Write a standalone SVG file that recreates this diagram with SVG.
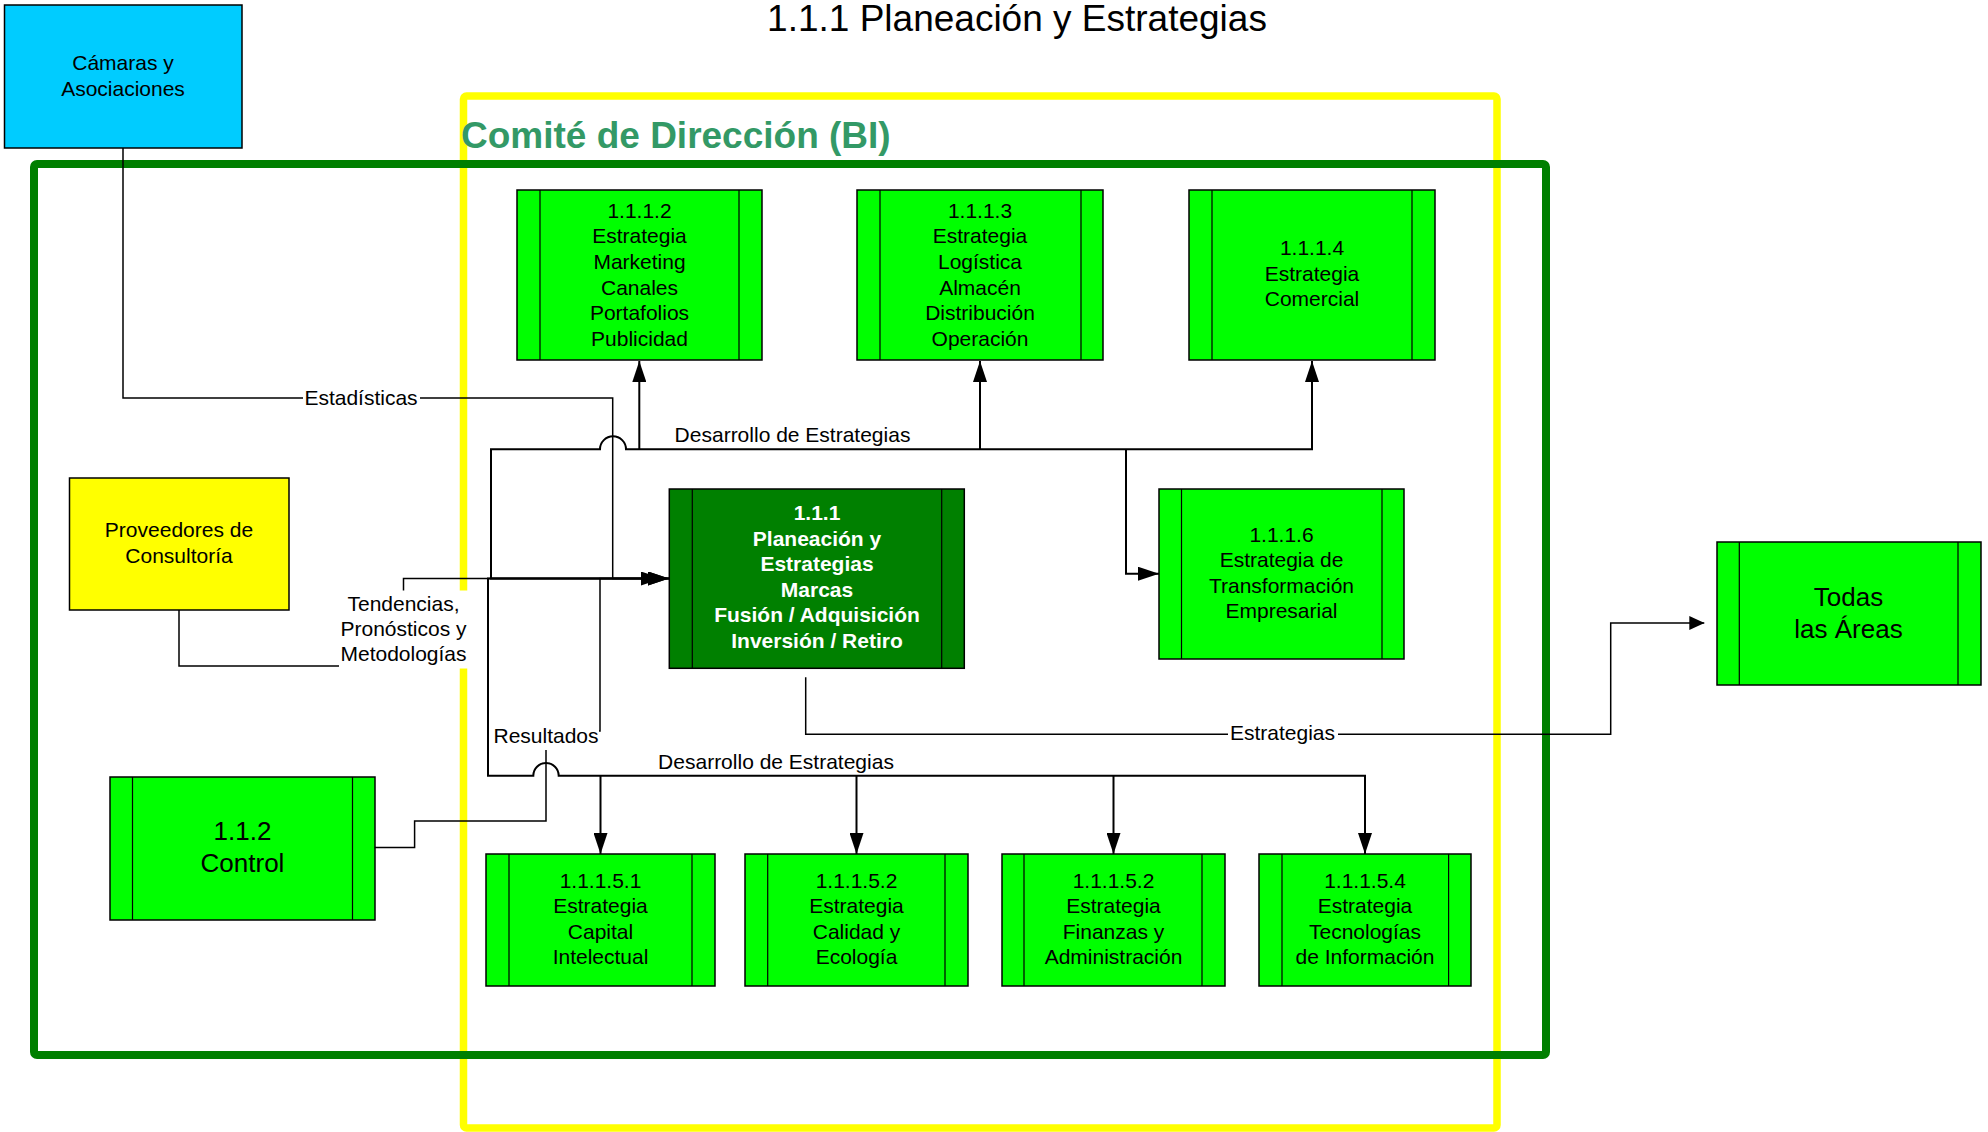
<svg xmlns="http://www.w3.org/2000/svg" width="1988" height="1132" viewBox="0 0 1988 1132">
<style>
text{font-family:"Liberation Sans",Arial,sans-serif;fill:#000}
.t21{font-size:21px;text-anchor:middle}
.t26{font-size:26px;text-anchor:middle}
.w{fill:#fff;font-weight:bold}
.box{fill:#00ff00;stroke:#000;stroke-width:1.5}
.dbox{fill:#008000;stroke:#000;stroke-width:1.5}
.in{stroke:#000;stroke-width:1.2;fill:none}
.c{fill:none;stroke:#000;stroke-width:1.5}
.d{fill:none;stroke:#000;stroke-width:2}
.bg{fill:#fff}
</style>
<defs>
<marker id="arr" viewBox="0 0 21 14" refX="21" refY="7" markerWidth="21" markerHeight="14" markerUnits="userSpaceOnUse" orient="auto"><path d="M0,0L21,7L0,14z" fill="#000"/></marker>
<marker id="arrS" viewBox="0 0 15 14" refX="15" refY="7" markerWidth="15" markerHeight="14" markerUnits="userSpaceOnUse" orient="auto"><path d="M0,0L15,7L0,14z" fill="#000"/></marker>
</defs>
<rect width="1988" height="1132" fill="#fff"/>
<text x="1017" y="31" style="font-size:37px;text-anchor:middle">1.1.1 Planeación y Estrategias</text>
<g id="frame-comite">
<rect x="463.5" y="96" width="1033.5" height="1032" rx="3" fill="none" stroke="#ffff00" stroke-width="7.5"/>
<text x="461" y="148" style="font-size:37px;font-weight:bold;fill:#339966">Comité de Dirección (BI)</text>
</g>
<g id="frame-bi">
<rect x="34" y="164" width="1512" height="891" rx="3" fill="none" stroke="#007f00" stroke-width="8"/>
</g>

<g id="camaras">
<rect x="4.5" y="5" width="237.5" height="143" fill="#00ccff" stroke="#000" stroke-width="1.5"/>
<text class="t21"><tspan x="123" y="70.4">Cámaras y</tspan><tspan x="123" y="96">Asociaciones</tspan></text>
</g>
<g id="proveedores">
<rect x="69.5" y="478" width="219.5" height="132" fill="#ffff00" stroke="#000" stroke-width="1.5"/>
<text class="t21"><tspan x="179" y="537">Proveedores de</tspan><tspan x="179" y="562.6">Consultoría</tspan></text>
</g>
<g id="n1112">
<rect class="box" x="517" y="190" width="245" height="170"/>
<path class="in" d="M540,190V360M739,190V360"/>
<text class="t21"><tspan x="639.5" y="217.7">1.1.1.2</tspan><tspan x="639.5" y="243.3">Estrategia</tspan><tspan x="639.5" y="268.9">Marketing</tspan><tspan x="639.5" y="294.5">Canales</tspan><tspan x="639.5" y="320.1">Portafolios</tspan><tspan x="639.5" y="345.7">Publicidad</tspan></text>
</g>
<g id="n1113">
<rect class="box" x="857" y="190" width="246" height="170"/>
<path class="in" d="M880,190V360M1081,190V360"/>
<text class="t21"><tspan x="980" y="217.7">1.1.1.3</tspan><tspan x="980" y="243.3">Estrategia</tspan><tspan x="980" y="268.9">Logística</tspan><tspan x="980" y="294.5">Almacén</tspan><tspan x="980" y="320.1">Distribución</tspan><tspan x="980" y="345.7">Operación</tspan></text>
</g>
<g id="n1114">
<rect class="box" x="1189" y="190" width="246" height="170"/>
<path class="in" d="M1212,190V360M1412,190V360"/>
<text class="t21"><tspan x="1312" y="255">1.1.1.4</tspan><tspan x="1312" y="280.6">Estrategia</tspan><tspan x="1312" y="306.2">Comercial</tspan></text>
</g>
<g id="n111">
<rect class="dbox" x="669.3" y="489" width="295" height="179.3"/>
<path class="in" d="M692.3,489V668.3M941.7,489V668.3"/>
<text class="t21 w"><tspan class="w" x="817" y="520">1.1.1</tspan><tspan class="w" x="817" y="545.6">Planeación y</tspan><tspan class="w" x="817" y="571.2">Estrategias</tspan><tspan class="w" x="817" y="596.8">Marcas</tspan><tspan class="w" x="817" y="622.4">Fusión / Adquisición</tspan><tspan class="w" x="817" y="648">Inversión / Retiro</tspan></text>
</g>
<g id="n1116">
<rect class="box" x="1159" y="489" width="245" height="170"/>
<path class="in" d="M1181.5,489V659M1382,489V659"/>
<text class="t21"><tspan x="1281.5" y="541.5">1.1.1.6</tspan><tspan x="1281.5" y="567.1">Estrategia de</tspan><tspan x="1281.5" y="592.7">Transformación</tspan><tspan x="1281.5" y="618.3">Empresarial</tspan></text>
</g>
<g id="todas">
<rect class="box" x="1717" y="542" width="264" height="143"/>
<path class="in" d="M1739.3,542V685M1958,542V685"/>
<text class="t26"><tspan x="1848.5" y="606">Todas</tspan><tspan x="1848.5" y="638">las Áreas</tspan></text>
</g>
<g id="n112">
<rect class="box" x="110" y="777" width="265" height="143"/>
<path class="in" d="M132.5,777V920M352.5,777V920"/>
<text class="t26"><tspan x="242.5" y="839.6">1.1.2</tspan><tspan x="242.5" y="871.8">Control</tspan></text>
</g>
<g id="n11151">
<rect class="box" x="486" y="854" width="229" height="132"/>
<path class="in" d="M509,854V986M692,854V986"/>
<text class="t21"><tspan x="600.5" y="887.5">1.1.1.5.1</tspan><tspan x="600.5" y="913.1">Estrategia</tspan><tspan x="600.5" y="938.7">Capital</tspan><tspan x="600.5" y="964.3">Intelectual</tspan></text>
</g>
<g id="n11152a">
<rect class="box" x="745" y="854" width="223" height="132"/>
<path class="in" d="M767.7,854V986M945,854V986"/>
<text class="t21"><tspan x="856.5" y="887.5">1.1.1.5.2</tspan><tspan x="856.5" y="913.1">Estrategia</tspan><tspan x="856.5" y="938.7">Calidad y</tspan><tspan x="856.5" y="964.3">Ecología</tspan></text>
</g>
<g id="n11152b">
<rect class="box" x="1002" y="854" width="223" height="132"/>
<path class="in" d="M1024,854V986M1202,854V986"/>
<text class="t21"><tspan x="1113.5" y="887.5">1.1.1.5.2</tspan><tspan x="1113.5" y="913.1">Estrategia</tspan><tspan x="1113.5" y="938.7">Finanzas y</tspan><tspan x="1113.5" y="964.3">Administración</tspan></text>
</g>
<g id="n11154">
<rect class="box" x="1259" y="854" width="212" height="132"/>
<path class="in" d="M1282,854V986M1448.6,854V986"/>
<text class="t21"><tspan x="1365" y="887.5">1.1.1.5.4</tspan><tspan x="1365" y="913.1">Estrategia</tspan><tspan x="1365" y="938.7">Tecnologías</tspan><tspan x="1365" y="964.3">de Información</tspan></text>
</g>

<g id="connectors">
<path class="c" d="M123,148V398H612.7V578.5H669" marker-end="url(#arr)"/>
<path class="c" d="M179,610V666H403.5V578.5H669" marker-end="url(#arr)"/>
<path class="c" d="M374.7,847.6H414.6V821H546V731H600V578.5H662" marker-end="url(#arr)"/>
<path class="d" d="M669,578.5H491V449.3H600A13,13 0 0 1 626,449.3H1312V361" marker-end="url(#arr)"/>
<path class="d" d="M639.3,449.3V361" marker-end="url(#arr)"/>
<path class="d" d="M980,449.3V361" marker-end="url(#arr)"/>
<path class="d" d="M1126,449.3V573.7H1159" marker-end="url(#arr)"/>
<path class="d" d="M669,578.5H488V775.7H533.3A12.7,12.7 0 0 1 558.7,775.7H1365V854" marker-end="url(#arr)"/>
<path class="d" d="M600.5,775.7V854" marker-end="url(#arr)"/>
<path class="d" d="M856.5,775.7V854" marker-end="url(#arr)"/>
<path class="d" d="M1113.5,775.7V854" marker-end="url(#arr)"/>
<path class="c" d="M805.7,677.3V734.3H1610.7V623H1704.3" marker-end="url(#arrS)"/>
<rect class="bg" x="303" y="386" width="117" height="24"/>
<text class="t21" x="361" y="405">Estadísticas</text>
<rect class="bg" x="339" y="590.5" width="130" height="78"/>
<text class="t21"><tspan x="403.5" y="611">Tendencias,</tspan><tspan x="403.5" y="635.7">Pronósticos y</tspan><tspan x="403.5" y="660.7">Metodologías</tspan></text>
<rect class="bg" x="492" y="724" width="107" height="26"/>
<text class="t21" x="546" y="743.3">Resultados</text>
<text class="t21" x="792.5" y="442">Desarrollo de Estrategias</text>
<text class="t21" x="776" y="769.3">Desarrollo de Estrategias</text>
<rect class="bg" x="1228" y="722" width="110" height="24"/>
<text class="t21" x="1282.5" y="740">Estrategias</text>
</g>
</svg>
